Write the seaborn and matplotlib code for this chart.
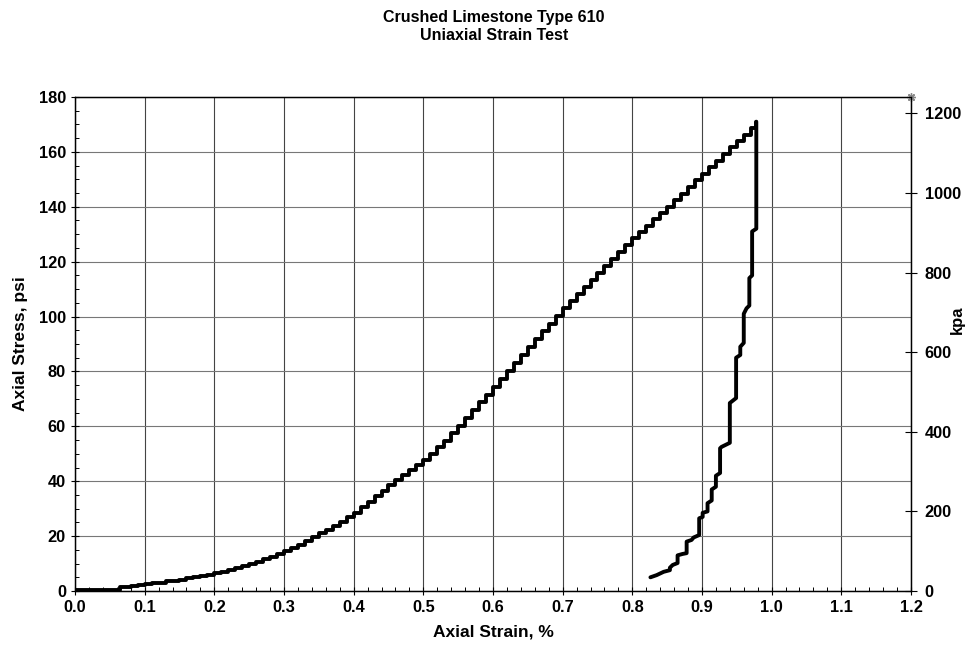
import matplotlib.pyplot as plt
import pandas as pd
import seaborn as sns
from matplotlib.ticker import MultipleLocator

sns.set_theme(style='ticks')
plt.rcParams['font.family'] = ['Liberation Sans', 'DejaVu Sans']
plt.rcParams['font.weight'] = 'bold'
plt.rcParams['text.color'] = 'black'
plt.rcParams['axes.labelcolor'] = 'black'
plt.rcParams['xtick.color'] = 'black'
plt.rcParams['ytick.color'] = 'black'

# loading branch (strain %, stress psi) - drawn as stairs
load_strain = [0.0, 0.065, 0.07, 0.08, 0.09, 0.10, 0.11, 0.12, 0.13, 0.14, 0.15,
               0.16, 0.17, 0.18, 0.19, 0.20, 0.21, 0.22, 0.23, 0.24, 0.25,
               0.26, 0.27, 0.28, 0.29, 0.30, 0.31, 0.32, 0.33, 0.34, 0.35,
               0.36, 0.37, 0.38, 0.39, 0.40, 0.41, 0.42, 0.43, 0.44, 0.45,
               0.46, 0.47, 0.48, 0.49, 0.50, 0.51, 0.52, 0.53, 0.54, 0.55,
               0.56, 0.57, 0.58, 0.59, 0.60, 0.61, 0.62, 0.63, 0.64, 0.65,
               0.66, 0.67, 0.68, 0.69, 0.70, 0.71, 0.72, 0.73, 0.74, 0.75,
               0.76, 0.77, 0.78, 0.79, 0.80, 0.81, 0.82, 0.83, 0.84, 0.85,
               0.86, 0.87, 0.88, 0.89, 0.90, 0.91, 0.92, 0.93, 0.94, 0.95,
               0.96, 0.97, 0.978]
load_psi = [0.3, 1.3, 1.5, 1.8, 2.2, 2.5, 2.8, 3.1, 3.5, 3.8, 4.2,
            4.6, 5.0, 5.5, 6.0, 6.5, 7.1, 7.7, 8.3, 9.0, 9.8,
            10.6, 11.5, 12.4, 13.4, 14.5, 15.7, 16.9, 18.2, 19.6, 21.0,
            22.4, 23.8, 25.3, 26.9, 28.5, 30.5, 32.5, 34.6, 36.6, 38.5,
            40.3, 42.1, 44.0, 45.9, 47.9, 50.1, 52.4, 54.8, 57.4, 60.0,
            62.9, 65.8, 68.7, 71.6, 74.5, 77.4, 80.3, 83.2, 86.1, 89.0,
            91.8, 94.6, 97.4, 100.2, 103.0, 105.6, 108.2, 110.8, 113.4, 116.0,
            118.5, 121.0, 123.5, 126.0, 128.5, 130.8, 133.1, 135.4, 137.7, 140.0,
            142.4, 144.8, 147.2, 149.6, 152.0, 154.4, 156.8, 159.2, 161.6, 164.0,
            166.3, 168.6, 171.0]

# unloading branch, vertices from peak down
unload_strain = [0.978, 0.978, 0.972, 0.972, 0.968, 0.968, 0.964, 0.960, 0.960,
                 0.955, 0.955, 0.949, 0.949, 0.940, 0.940, 0.928, 0.926, 0.926,
                 0.920, 0.920, 0.914, 0.914, 0.908, 0.908, 0.901, 0.901, 0.896,
                 0.896, 0.888, 0.885, 0.878, 0.878, 0.872, 0.865, 0.865, 0.858,
                 0.854, 0.854, 0.845, 0.835, 0.826]
unload_psi = [171.0, 132.0, 131.0, 115.0, 114.0, 104.0, 103.0, 101.0, 90.4,
              89.0, 86.0, 85.0, 70.3, 68.5, 54.0, 52.5, 52.0, 43.0,
              42.0, 38.0, 37.0, 33.0, 32.0, 29.0, 28.5, 27.0, 26.5,
              20.4, 19.5, 18.6, 18.0, 13.8, 13.5, 13.0, 10.2, 9.5,
              8.5, 7.6, 7.0, 5.8, 5.0]

# stray marker in top-right corner of the original
corner_strain = [1.2]
corner_psi = [180]

x_ticks = [0.0, 0.1, 0.2, 0.3, 0.4, 0.5, 0.6, 0.7, 0.8, 0.9, 1.0, 1.1, 1.2]
x_labels = ['0.0', '0.1', '0.2', '0.3', '0.4', '0.5', '0.6', '0.7', '0.8',
            '0.9', '1.0', '1.1', '1.2']

PSI_TO_KPA = 6.894757

load = pd.DataFrame({'strain': load_strain, 'psi': load_psi})
unload = pd.DataFrame({'strain': unload_strain, 'psi': unload_psi})

fig = plt.figure(figsize=(9.69, 6.53), dpi=100)
ax = fig.add_axes([0.0774, 0.0949, 0.8627, 0.7566])

sns.lineplot(data=load, x='strain', y='psi', ax=ax, color='black', lw=2.8,
             sort=False, estimator=None, drawstyle='steps-post')
sns.lineplot(data=unload, x='strain', y='psi', ax=ax, color='black', lw=2.8,
             sort=False, estimator=None)
ax.plot(corner_strain, corner_psi, marker=(8, 2, 0), ms=6, color='#888888',
        ls='none', clip_on=False, zorder=5)

ax.set_xticks(x_ticks)
ax.set_xticklabels(x_labels)
ax.set_xlim(0, 1.2)
ax.set_ylim(0, 180)
ax.xaxis.set_minor_locator(MultipleLocator(0.02))
ax.yaxis.set_major_locator(MultipleLocator(20))
ax.yaxis.set_minor_locator(MultipleLocator(5))
ax.grid(True, which='major', axis='x', color='#444444', lw=0.8)
ax.grid(True, which='major', axis='y', color='#777777', lw=0.8)
ax.tick_params(which='major', direction='inout', length=6, width=0.8,
               labelsize=11.8)
ax.tick_params(which='minor', direction='in', length=3, width=0.7)
for s in ax.spines.values():
    s.set_color('black')
    s.set_linewidth(0.9)
for lab in ax.get_xticklabels() + ax.get_yticklabels():
    lab.set_fontweight('bold')

ax.set_xlabel('Axial Strain, %', fontsize=12.5, fontweight='bold', labelpad=7)
ax.set_ylabel('Axial Stress, psi', fontsize=12.5, fontweight='bold', labelpad=8)

ax2 = ax.twinx()
ax2.set_ylim(0, 180 * PSI_TO_KPA)
ax2.yaxis.set_major_locator(MultipleLocator(200))
ax2.tick_params(which='major', direction='inout', length=8, width=0.8,
                labelsize=11.8, pad=6)
for lab in ax2.get_yticklabels():
    lab.set_fontweight('bold')
ax2.set_ylabel('kpa', fontsize=12, fontweight='bold')
ax2.yaxis.set_label_coords(1.046, 0.55)
for s in ax2.spines.values():
    s.set_color('black')
    s.set_linewidth(0.9)

fig.text(0.51, 0.985, 'Crushed Limestone Type 610\nUniaxial Strain Test',
         ha='center', va='top', fontsize=11.5, fontweight='bold', linespacing=1.3)

fig.savefig('out.png', dpi=100)
